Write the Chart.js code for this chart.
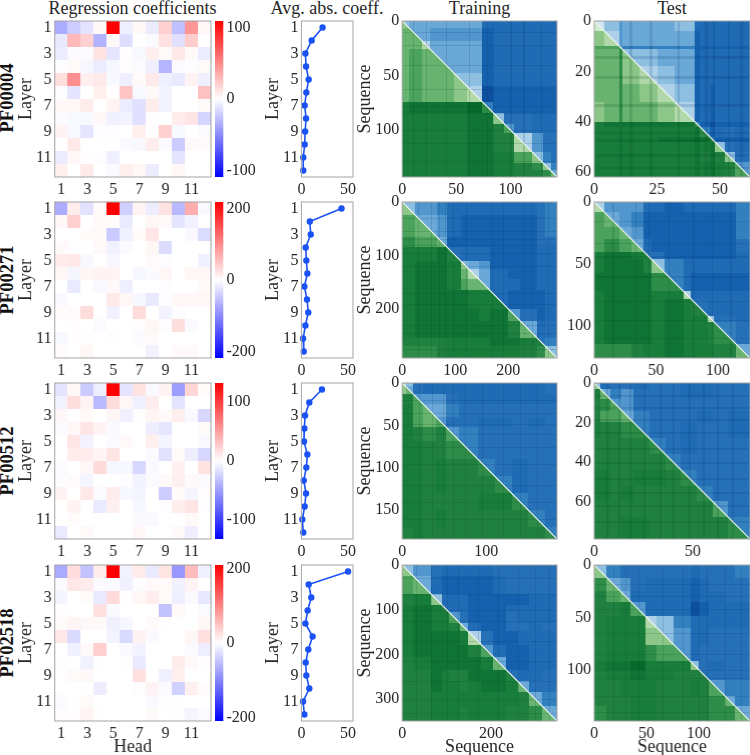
<!DOCTYPE html>
<html>
<head>
<meta charset="utf-8">
<script src="https://cdn.jsdelivr.net/npm/chart.js@4/dist/chart.umd.min.js"></script>
<style>
html, body { margin: 0; padding: 0; width: 750px; height: 755px; overflow: hidden; background: #fff; }
canvas { position: absolute; }
.lab { position: absolute; font-family: "Liberation Serif", serif; font-size: 18px; color: #262626; white-space: nowrap; line-height: 1; transform: translate(-50%, -50%); }
.pf { font-weight: bold; color: #111; font-size: 18.5px; transform: translate(-50%, -50%) rotate(-90deg); }
</style>
</head>
<body>
<script>
var families = ['PF00004', 'PF00271', 'PF00512', 'PF02518'];
var columnTitles = ['Regression coefficients', 'Avg. abs. coeff.', 'Training', 'Test'];
var layerTicks = [1, 3, 5, 7, 9, 11];
var avgTicks = [0, 50];

// regression coefficients, rows are layers, columns are heads
var coefPF00004 = [
    [-35, -22, -12, 3, 109, -7, 3, -8, 20, -27, 45, 4],
    [-10, 30, 20, -33, 3, -14, 0, -2, 13, -13, 22, 0],
    [-8, -2, -2, 12, -11, 1, -3, 7, 2, 10, 2, -8],
    [-1, 2, -4, -8, -4, 1, -2, -7, -32, -2, -1, 2],
    [14, 48, 7, 9, -3, -7, 2, 9, -7, -9, 5, -7],
    [-1, -11, 0, 7, 1, 25, -3, 3, -5, 0, 0, 26],
    [3, 4, 8, 0, 5, -8, -13, 8, -5, 0, 0, 2],
    [-2, -3, -3, 3, -6, -5, -13, 1, 0, 8, 11, -18],
    [5, -3, -11, -1, -1, 0, 7, 1, 20, -3, 0, -2],
    [0, 10, 0, 0, 0, -2, -3, 8, -2, -22, 3, 2],
    [-8, 3, 1, -1, -7, 0, 0, 0, 0, -11, 0, 0],
    [7, 0, 9, 0, -2, 7, 4, -8, 0, 4, 0, 0]
];
var coefPF00271 = [
    [-70, 15, -25, 3, 218, -40, 10, -15, 25, -60, 70, -5],
    [6, 40, 0, 5, 3, -18, 0, 8, 5, -22, -12, 0],
    [0, 0, 3, 5, -45, -12, 3, 22, 0, 0, -5, -30],
    [5, -2, 0, 5, -12, -4, 0, 8, -30, 0, 0, 2],
    [17, 20, -6, 0, -7, 0, 0, 5, -2, 0, 0, -12],
    [8, -8, 8, 10, 10, 0, -7, -3, 8, 0, 8, 8],
    [0, -18, 0, -5, 5, -14, 0, 0, -2, 0, 0, 5],
    [-5, 0, 0, 0, 18, 8, -7, -18, -2, 8, 8, 8],
    [3, 3, 30, 0, -12, 0, 30, 0, -10, -2, 0, 0],
    [0, 2, 0, -3, 0, 0, 2, 8, -2, 28, -3, 0],
    [-6, 2, -1, 0, 1, 0, -3, 4, 0, 0, 0, 0],
    [3, 0, 8, 0, 0, 0, 0, -11, 0, 5, 5, 0]
];
var coefPF00512 = [
    [-14, 4, -27, -9, 132, -14, 15, -3, 6, -50, 22, 2],
    [-6, 17, 6, -36, 18, 4, -8, 10, 0, -14, 0, 0],
    [4, 0, 3, 0, 4, -8, 1, 5, 3, 9, -3, -20],
    [-2, 4, 13, 6, -3, 0, 0, -9, -13, 0, 0, 2],
    [0, 13, -6, 0, -2, 3, 0, 8, -5, 0, 0, -3],
    [0, 10, 10, 5, 14, 0, 0, -2, -15, 2, -9, -20],
    [-2, 0, 4, 18, -4, -4, -20, -3, 0, 7, 0, 15],
    [-1, 2, -5, 0, 0, -1, -6, -2, 3, 8, 3, -2],
    [6, 0, 12, -2, 10, -4, -5, 0, -26, 2, -5, 1],
    [0, 6, 0, -11, 8, 0, -4, 0, -1, 9, 14, -1],
    [0, 2, 0, 0, 0, 0, -2, -3, 0, 0, 3, 0],
    [-11, 0, 3, 0, 0, 0, 4, 0, 0, 3, -9, 0]
];
var coefPF02518 = [
    [-70, 28, -50, 15, 209, -10, 15, -18, 22, -85, 55, -12],
    [-3, 20, 15, -4, -3, -12, -2, 5, 5, -11, 10, 0],
    [-8, 0, 3, -18, 30, 2, 7, 15, 4, -14, -3, -20],
    [2, 0, 0, 25, -5, 0, 0, 0, -50, 5, 0, -3],
    [3, 8, 6, 4, -12, -7, 0, 5, -1, 0, 0, 7],
    [20, -30, 0, 0, -9, -30, 11, -5, 0, 0, 7, 25],
    [0, -12, 5, 40, 0, -5, -10, 0, 0, 0, -3, -14],
    [-1, 0, -11, 1, 0, 1, -18, 0, 0, 15, 6, 2],
    [0, 4, 6, 0, 0, 0, 25, 0, -12, 13, 0, 0],
    [0, 0, 0, -15, 0, 0, -2, 11, -4, -38, 12, 3],
    [-3, 1, 4, 0, 0, 0, 0, -5, 1, -1, 0, 0],
    [2, 2, 10, -1, 0, 0, 0, 4, 0, -1, -8, -3]
];
var coefs = [coefPF00004, coefPF00271, coefPF00512, coefPF02518];
var coefRanges = [109, 218, 132, 209];
var coefTicks = [[100, 0, -100], [200, 0, -200], [100, 0, -100], [200, 0, -200]];

// average absolute coefficient per layer
var avgPF00004 = [22.7, 11, 4.3, 5, 7.8, 5.3, 3.5, 5, 4, 3.5, 2, 2];
var avgPF00271 = [43, 9, 10, 4.6, 5.3, 6.4, 3.2, 6, 7.4, 4.3, 1.8, 2.5];
var avgPF00512 = [22, 8.5, 3.9, 3.2, 2.8, 6.4, 5.3, 2.5, 5, 3.5, 1, 2];
var avgPF02518 = [50, 7.8, 10.6, 6.7, 4.3, 12, 7.4, 4.6, 5.3, 8.5, 1.8, 3.2];
var avgs = [avgPF00004, avgPF00271, avgPF00512, avgPF02518];

// sequence similarity, block edges along the sequence and levels 0-9 per block pair
var trainEdges0 = [0, 6, 18, 26, 36, 48, 60, 74, 84, 94, 103, 120, 130, 137, 143];
var trainLevels0 = [
    [7, 6, 6, 6, 6, 6, 6, 2, 2, 2, 2, 2, 2, 2],
    [6, 6, 5, 5, 5, 5, 1, 2, 2, 2, 2, 2, 2],
    [8, 6, 6, 6, 6, 1, 2, 2, 2, 2, 2, 2],
    [6, 6, 6, 6, 1, 2, 2, 2, 2, 2, 2],
    [6, 6, 6, 1, 2, 2, 2, 2, 2, 2],
    [7, 7, 1, 2, 2, 2, 2, 2, 2],
    [8, 0, 1, 1, 1, 1, 1, 1],
    [4, 1, 1, 1, 1, 1, 1],
    [7, 3, 3, 2, 2, 2],
    [5, 3, 2, 2, 2],
    [8, 5, 3, 3],
    [7, 4, 3],
    [7, 4],
    [6]
];
var testEdges0 = [0, 4, 10, 11, 18, 25, 32, 40, 42, 46, 48, 52, 56, 62];
var testLevels0 = [
    [9, 7, 5, 6, 6, 6, 7, 2, 2, 2, 2, 2, 2],
    [8, 5, 6, 6, 6, 6, 1, 2, 2, 2, 2, 2],
    [5, 4, 4, 4, 4, 1, 1, 1, 1, 1, 1],
    [7, 7, 6, 6, 1, 2, 2, 2, 2, 2],
    [8, 7, 6, 1, 2, 2, 2, 2, 2],
    [8, 7, 1, 2, 1, 2, 2, 2],
    [8, 1, 2, 1, 2, 2, 2],
    [4, 1, 0, 1, 1, 1],
    [4, 1, 2, 3, 2],
    [3, 1, 1, 1],
    [7, 3, 2],
    [7, 3],
    [5]
];
var trainEdges1 = [0, 25, 65, 85, 110, 125, 145, 165, 200, 222, 254, 270, 292];
var trainLevels1 = [
    [7, 5, 4, 2, 2, 2, 2, 2, 2, 2, 3, 4],
    [6, 5, 2, 1, 1, 1, 1, 1, 1, 3, 4],
    [6, 1, 1, 1, 1, 1, 1, 1, 3, 3],
    [3, 2, 2, 2, 1, 1, 1, 2, 2],
    [7, 6, 5, 1, 1, 1, 2, 2],
    [8, 6, 2, 1, 1, 2, 2],
    [6, 2, 2, 1, 2, 2],
    [2, 1, 1, 1, 2],
    [5, 3, 1, 2],
    [6, 2, 3],
    [3, 4],
    [7]
];
var testEdges1 = [0, 8, 20, 30, 40, 46, 57, 72, 78, 92, 97, 115, 126];
var testLevels1 = [
    [8, 5, 5, 5, 2, 2, 1, 2, 2, 2, 2, 4],
    [6, 5, 4, 1, 1, 1, 1, 1, 1, 1, 4],
    [6, 5, 1, 1, 1, 1, 1, 1, 1, 4],
    [6, 2, 1, 1, 1, 1, 1, 1, 3],
    [3, 3, 1, 1, 1, 1, 1, 2],
    [7, 4, 2, 2, 2, 2, 2],
    [4, 2, 1, 1, 1, 1],
    [8, 2, 2, 2, 2],
    [3, 2, 2, 2],
    [8, 3, 2],
    [4, 3],
    [6]
];
var trainEdges2 = [0, 4, 13, 25, 40, 52, 68, 90, 110, 130, 150, 170, 184];
var trainLevels2 = [
    [8, 7, 3, 2, 2, 2, 2, 2, 2, 2, 2, 3],
    [6, 3, 2, 2, 2, 2, 2, 2, 2, 2, 3],
    [5, 5, 5, 3, 2, 2, 2, 2, 2, 2],
    [6, 6, 4, 3, 3, 3, 3, 3, 3],
    [5, 3, 3, 2, 2, 3, 2, 3],
    [5, 4, 3, 3, 3, 3, 3],
    [4, 3, 3, 3, 3, 3],
    [4, 3, 2, 3, 3],
    [4, 2, 3, 3],
    [4, 3, 3],
    [4, 3],
    [4]
];
var testEdges2 = [0, 3, 8, 14, 20, 28, 36, 44, 52, 60, 68, 79];
var testLevels2 = [
    [7, 2, 3, 3, 2, 3, 3, 2, 2, 3, 3],
    [6, 4, 5, 3, 3, 3, 2, 2, 3, 3],
    [5, 5, 3, 3, 3, 3, 3, 3, 3],
    [6, 4, 3, 3, 3, 2, 3, 2],
    [4, 3, 3, 2, 3, 3, 2],
    [4, 3, 2, 3, 3, 3],
    [4, 3, 3, 3, 3],
    [4, 3, 3, 3],
    [4, 3, 3],
    [5, 3],
    [4]
];
var trainEdges3 = [0, 25, 65, 90, 105, 130, 148, 178, 205, 235, 260, 285, 315, 349];
var trainLevels3 = [
    [7, 5, 3, 2, 2, 2, 2, 2, 3, 3, 3, 3, 3],
    [6, 2, 1, 1, 1, 1, 1, 2, 3, 3, 3, 3],
    [7, 2, 2, 2, 1, 1, 1, 1, 1, 2, 2],
    [3, 2, 2, 1, 1, 1, 2, 2, 2, 2],
    [5, 3, 1, 1, 1, 3, 2, 2, 2],
    [6, 2, 1, 1, 3, 3, 2, 3],
    [8, 3, 1, 1, 2, 2, 2],
    [5, 2, 1, 1, 2, 2],
    [6, 1, 1, 2, 2],
    [3, 2, 2, 3],
    [6, 3, 3],
    [6, 4],
    [6]
];
var testEdges3 = [0, 12, 25, 35, 49, 60, 76, 92, 100, 110, 125, 135, 149];
var testLevels3 = [
    [7, 4, 3, 3, 3, 3, 3, 2, 3, 3, 3, 4],
    [6, 5, 3, 2, 2, 2, 1, 2, 3, 3, 3],
    [6, 2, 2, 2, 2, 1, 2, 2, 3, 3],
    [5, 2, 2, 2, 0, 1, 2, 2, 2],
    [8, 7, 4, 2, 2, 2, 2, 2],
    [7, 5, 2, 2, 3, 3, 3],
    [5, 2, 3, 3, 3, 3],
    [7, 3, 2, 3, 3],
    [3, 3, 3, 3],
    [5, 4, 4],
    [6, 4],
    [6]
];
var trainEdges = [trainEdges0, trainEdges1, trainEdges2, trainEdges3];
var trainLevels = [trainLevels0, trainLevels1, trainLevels2, trainLevels3];
var testEdges = [testEdges0, testEdges1, testEdges2, testEdges3];
var testLevels = [testLevels0, testLevels1, testLevels2, testLevels3];

// sequences that show up as darker stripes across a matrix
var trainStripes = [
    [10, 22, 40, 62, 78, 84, 100, 112, 128],
    [30, 55, 70, 80, 95, 120, 170, 190, 230, 245, 275],
    [20, 35, 48, 60, 75, 95, 120, 140, 160],
    [30, 65, 100, 125, 170, 215, 260, 300, 330]
];
var testStripes = [
    [14, 22, 33, 44, 47, 53, 58],
    [15, 33, 44, 60, 80, 95, 110],
    [6, 12, 18, 25, 33, 40, 48, 55, 62, 70],
    [18, 30, 42, 65, 85, 100, 108, 125, 140]
];

var trainTicksY = [[0, 50, 100], [0, 100, 200], [0, 50, 100, 150], [0, 100, 200, 300]];
var trainTicksX = [[0, 50, 100], [0, 100, 200], [0, 100], [0, 200]];
var testTicksY = [[0, 20, 40, 60], [0, 50, 100], [0, 20, 40, 60], [0, 50, 100]];
var testTicksX = [[0, 25, 50], [0, 50, 100], [0, 50], [0, 50, 100]];

var blues = ['#0b4f9e', '#1561ad', '#1f6bb4', '#2670b8', '#3380bf', '#5197cd', '#6aa9d7', '#8cbfe0', '#aed1e9', '#d2e5f3'];
var greens = ['#056a2c', '#0f7435', '#187c3b', '#1f8040', '#2e8c49', '#4ba25c', '#68b36f', '#8cc688', '#b0d8a8', '#d3ebcd'];
var stripeBlue = 'rgba(8,50,120,0.16)';
var stripeGreen = 'rgba(0,70,25,0.16)';

var rowTops = [20.5, 201.7, 383.3, 564.7];
var panelH = 156;
var marginT = 10;
var tickFont = { family: '"Liberation Serif", serif', size: 16 };
var titleFont = { family: '"Liberation Serif", serif', size: 18 };
var textColor = '#262626';
var frameColor = '#a3a3a3';

function addLabel(text, x, y, cls) {
    var d = document.createElement('div');
    d.className = 'lab' + (cls ? ' ' + cls : '');
    d.textContent = text;
    d.style.left = x + 'px';
    d.style.top = y + 'px';
    document.body.appendChild(d);
}

// frame round the plot area
var framePlugin = {
    id: 'frame',
    afterDatasetsDraw: function (chart) {
        var a = chart.chartArea, ctx = chart.ctx;
        ctx.save();
        ctx.strokeStyle = frameColor;
        ctx.lineWidth = 1;
        ctx.strokeRect(a.left, a.top, a.right - a.left, a.bottom - a.top);
        ctx.restore();
    }
};

// fills the cells of dataset 0 through the chart scales
var cellPlugin = {
    id: 'cells',
    beforeDatasetsDraw: function (chart) {
        var sx = chart.scales.x, sy = chart.scales.y, ctx = chart.ctx;
        var ds = chart.data.datasets[0];
        function paint(list) {
            list.forEach(function (c) {
                var x0 = Math.round(sx.getPixelForValue(c.x0)), x1 = Math.round(sx.getPixelForValue(c.x1));
                var y0 = Math.round(sy.getPixelForValue(c.y0)), y1 = Math.round(sy.getPixelForValue(c.y1));
                ctx.fillStyle = c.color;
                ctx.fillRect(x0, y0, Math.max(x1 - x0, 1), Math.max(y1 - y0, 1));
            });
        }
        if (!ds.triangles) {
            paint(ds.data);
            return;
        }
        var n = sx.max;
        [[ds.data.filter(function (c) { return c.upper; }), n, 0], [ds.data.filter(function (c) { return !c.upper; }), 0, n]].forEach(function (t) {
            ctx.save();
            ctx.beginPath();
            ctx.moveTo(sx.getPixelForValue(0), sy.getPixelForValue(0));
            ctx.lineTo(sx.getPixelForValue(t[1]), sy.getPixelForValue(t[2]));
            ctx.lineTo(sx.getPixelForValue(n), sy.getPixelForValue(n));
            ctx.closePath();
            ctx.clip();
            paint(t[0]);
            ctx.restore();
        });
    }
};

function fixedTicks(values, label) {
    return function (scale) {
        scale.ticks = values.map(function (v) { return { value: v, label: label ? label(v) : String(v) }; });
    };
}

// tick labels may run past the plot area without shrinking it
function noScalePadding(scale) {
    scale.paddingTop = 0;
    scale.paddingBottom = 0;
    scale.paddingLeft = 0;
    scale.paddingRight = 0;
}

function makeAxis(min, max, values, size, reverse, title) {
    var axis = {
        min: min,
        max: max,
        reverse: reverse,
        grid: { display: false, drawTicks: false },
        border: { display: false },
        ticks: { font: tickFont, color: textColor, padding: 3, autoSkip: false, maxRotation: 0, minRotation: 0 },
        afterBuildTicks: fixedTicks(values),
        afterFit: function (scale) {
            if (scale.isHorizontal()) { scale.height = size; } else { scale.width = size; }
            noScalePadding(scale);
        }
    };
    if (title) {
        axis.title = { display: true, text: title, font: titleFont, color: textColor, padding: 0 };
    }
    return axis;
}

function makeCanvas(left, top, width, height) {
    var c = document.createElement('canvas');
    c.width = width;
    c.height = height;
    c.style.left = left + 'px';
    c.style.top = top + 'px';
    c.style.width = width + 'px';
    c.style.height = height + 'px';
    document.body.appendChild(c);
    return c;
}

function makePanel(px, py, pw, marginL, marginB, config, xAxis, yAxis) {
    var canvas = makeCanvas(px - marginL, py - marginT, marginL + pw + 10, marginT + panelH + marginB);
    new Chart(canvas, {
        type: 'scatter',
        data: { datasets: config.datasets },
        plugins: config.plugins,
        options: {
            responsive: false,
            animation: false,
            events: [],
            layout: { padding: { top: marginT, right: 10, left: 0, bottom: 0 } },
            plugins: { legend: { display: false }, tooltip: { enabled: false }, title: { display: false } },
            scales: { x: xAxis, y: yAxis }
        }
    });
}

function bwr(t) {
    var r = t > 0 ? 255 : Math.round(255 * (1 + t));
    var g = Math.round(255 * (1 - Math.abs(t)));
    var b = t < 0 ? 255 : Math.round(255 * (1 - t));
    return 'rgb(' + r + ',' + g + ',' + b + ')';
}

function coefCells(rows, range) {
    var cells = [];
    rows.forEach(function (row, l) {
        row.forEach(function (v, h) {
            cells.push({ x: h + 1, y: l + 1, x0: h + 0.5, x1: h + 1.5, y0: l + 0.5, y1: l + 1.5, color: bwr(v / range) });
        });
    });
    return cells;
}

function simCells(edges, levels, stripes) {
    var cells = [];
    var n = edges[edges.length - 1];
    levels.forEach(function (row, i) {
        row.forEach(function (v, k) {
            var j = i + k;
            cells.push({ x: edges[j], y: edges[i], x0: edges[j], x1: edges[j + 1], y0: edges[i], y1: edges[i + 1], color: blues[v], upper: true });
            cells.push({ x: edges[i], y: edges[j], x0: edges[i], x1: edges[i + 1], y0: edges[j], y1: edges[j + 1], color: greens[v], upper: false });
        });
    });
    stripes.forEach(function (s) {
        cells.push({ x: s, y: 0, x0: s, x1: s + 1, y0: 0, y1: n, color: stripeBlue, upper: true });
        cells.push({ x: 0, y: s, x0: 0, x1: n, y0: s, y1: s + 1, color: stripeBlue, upper: true });
        cells.push({ x: s, y: 0, x0: s, x1: s + 1, y0: 0, y1: n, color: stripeGreen, upper: false });
        cells.push({ x: 0, y: s, x0: 0, x1: n, y0: s, y1: s + 1, color: stripeGreen, upper: false });
    });
    return cells;
}

function drawCoefPanel(r) {
    var bottom = r === 3;
    makePanel(54.7, rowTops[r], 156, 39.5, bottom ? 37 : 20, {
        datasets: [{ data: coefCells(coefs[r], coefRanges[r]), pointRadius: 0 }],
        plugins: [cellPlugin, framePlugin]
    }, makeAxis(0.5, 12.5, layerTicks, bottom ? 37 : 20, false, bottom ? 'Head' : null),
       makeAxis(0.5, 12.5, layerTicks, 39.5, true, 'Layer'));
}

function drawColorbar(r) {
    var range = coefRanges[r];
    var canvas = makeCanvas(215.3, rowTops[r] - 10, 50, panelH + 20);
    new Chart(canvas, {
        type: 'bar',
        data: {
            labels: [''],
            datasets: [{
                data: [[-range, range]],
                barPercentage: 1,
                categoryPercentage: 1,
                backgroundColor: function (context) {
                    var a = context.chart.chartArea;
                    if (!a) { return '#fff'; }
                    var g = context.chart.ctx.createLinearGradient(0, a.bottom, 0, a.top);
                    g.addColorStop(0, '#0000ff');
                    g.addColorStop(0.5, '#ffffff');
                    g.addColorStop(1, '#ff0000');
                    return g;
                }
            }]
        },
        options: {
            responsive: false,
            animation: false,
            events: [],
            layout: { padding: { top: 10, bottom: 10, left: 0, right: 0 } },
            plugins: { legend: { display: false }, tooltip: { enabled: false } },
            scales: {
                x: { display: false },
                y: {
                    position: 'right',
                    min: -range,
                    max: range,
                    grid: { display: false, drawTicks: false },
                    border: { display: false },
                    ticks: { font: tickFont, color: textColor, padding: 3, autoSkip: false },
                    afterBuildTicks: fixedTicks(coefTicks[r], function (v) { return v < 0 ? '\u2212' + (-v) : String(v); }),
                    afterFit: function (scale) { scale.width = 41.6; noScalePadding(scale); }
                }
            }
        }
    });
}

function drawAvgPanel(r) {
    var points = avgs[r].map(function (v, l) { return { x: v, y: l + 1 }; });
    makePanel(301.3, rowTops[r], 52, 39.4, 20, {
        datasets: [{
            data: points,
            showLine: true,
            borderColor: '#1a52f5',
            backgroundColor: '#1a52f5',
            borderWidth: 1.6,
            pointRadius: 2.4,
            clip: false
        }],
        plugins: [framePlugin]
    }, makeAxis(0, 55.3, avgTicks, 20, false, null),
       makeAxis(0.5, 12.5, layerTicks, 39.4, true, 'Layer'));
}

function drawSimPanel(px, edges, levels, stripes, ticksX, ticksY, r, marginL, yTitle) {
    var n = edges[edges.length - 1];
    var bottom = r === 3;
    makePanel(px, rowTops[r], 155.6, marginL, bottom ? 37 : 20, {
        datasets: [
            { data: simCells(edges, levels, stripes), triangles: true, pointRadius: 0 },
            { data: [{ x: 0, y: 0 }, { x: n, y: n }], showLine: true, borderColor: '#f4f8f2', borderWidth: 1.1, pointRadius: 0 }
        ],
        plugins: [cellPlugin, framePlugin]
    }, makeAxis(0, n, ticksX, bottom ? 37 : 20, false, bottom ? 'Sequence' : null),
       makeAxis(0, n, ticksY, marginL, true, yTitle));
}

var colCentres = [132.5, 327, 479.5, 672];
columnTitles.forEach(function (t, i) { addLabel(t, colCentres[i], 7.5); });
var pfCentres = [97.5, 280, 461, 643];
families.forEach(function (f, r) {
    addLabel(f, 7, pfCentres[r], 'pf');
    drawCoefPanel(r);
    drawColorbar(r);
    drawAvgPanel(r);
    drawSimPanel(401.7, trainEdges[r], trainLevels[r], trainStripes[r], trainTicksX[r], trainTicksY[r], r, 48.2, 'Sequence');
    drawSimPanel(594, testEdges[r], testLevels[r], testStripes[r], testTicksX[r], testTicksY[r], r, 40, null);
});
</script>
</body>
</html>
